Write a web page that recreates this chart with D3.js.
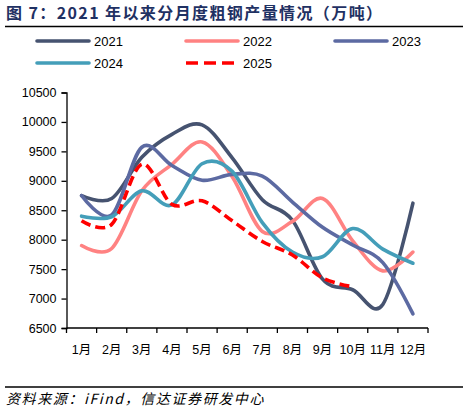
<!DOCTYPE html>
<html>
<head>
<meta charset="utf-8">
<script src="https://cdn.jsdelivr.net/npm/d3@7/dist/d3.min.js"></script>
<style>
  body { margin: 0; background: #fff; }
  svg { display: block; }
  text { font-family: "Liberation Sans", Arial, sans-serif; }
</style>
</head>
<body>
<svg id="chart" width="468" height="412"></svg>
<script>
// Data (万吨)
const months = ["1月","2月","3月","4月","5月","6月","7月","8月","9月","10月","11月","12月"]
const v2021 = [8750, 8700, 9400, 9790, 9950, 9390, 8680, 8330, 7330, 7150, 6900, 8620]
const v2022 = [7900, 7850, 8830, 9280, 9660, 9070, 8140, 8310, 8700, 7980, 7470, 7790]
const v2023 = [8750, 8420, 9570, 9260, 9010, 9110, 9080, 8640, 8210, 7910, 7610, 6740]
const v2024 = [8400, 8390, 8830, 8590, 9290, 9160, 8290, 7790, 7710, 8190, 7840, 7600]
const v2025 = [8320, 8260, 9280, 8600, 8660, 8320, 7970, 7740, 7350, 7200]
const yTicks = [6500, 7000, 7500, 8000, 8500, 9000, 9500, 10000, 10500]

const series = [
	{name: "2021", values: v2021, color: "#465370", dash: null},
	{name: "2022", values: v2022, color: "#FF8282", dash: null},
	{name: "2023", values: v2023, color: "#5C6AA2", dash: null},
	{name: "2024", values: v2024, color: "#449EB9", dash: null},
	{name: "2025", values: v2025, color: "#FF0000", dash: "10,5"}
]

const svg = d3.select("#chart")

// Title + rule
svg.append("text")
	.attr("x", 6).attr("y", 19)
	.style("font-family", "'Noto Sans CJK SC', sans-serif")
	.style("font-weight", "bold")
	.style("font-size", "16px")
	.style("letter-spacing", "1.4px")
	.style("fill", "#1F3163")
	.text("图 7：2021 年以来分月度粗钢产量情况（万吨）")
svg.append("line")
	.attr("x1", 5).attr("x2", 463).attr("y1", 26.5).attr("y2", 26.5)
	.style("stroke", "#000").style("stroke-width", 1.5)

// Scales
const x = d3.scaleBand().domain(months).range([66.5, 428])
const y = d3.scaleLinear().domain([6500, 10500]).range([328, 92.5])

// Axes
const yAxis = svg.append("g")
	.attr("transform", "translate(66.5,0)")
	.call(d3.axisLeft(y).tickValues(yTicks).tickSize(5).tickPadding(5).tickFormat(d3.format("d")))
const xAxis = svg.append("g")
	.attr("transform", "translate(0,328)")
	.call(d3.axisBottom(x).tickSize(0).tickPadding(17))

// ticks between categories on x axis
xAxis.selectAll(".sep")
	.data(d3.range(months.length + 1))
	.join("line")
	.attr("class", "sep")
	.attr("x1", i => x.range()[0] + i * x.step())
	.attr("x2", i => x.range()[0] + i * x.step())
	.attr("y1", 0).attr("y2", 5)
	.style("stroke", "#000").style("stroke-width", 1.3)

;[yAxis, xAxis].forEach(ax => {
	ax.select(".domain").style("stroke", "#000").style("stroke-width", 1.3)
	ax.selectAll(".tick line").style("stroke", "#000").style("stroke-width", 1.3)
	ax.selectAll(".tick text")
		.style("font-family", "'Liberation Sans', 'Noto Sans CJK SC', sans-serif")
		.style("font-size", "12.5px")
		.style("fill", "#000")
})
xAxis.select(".domain").attr("d", "M66.5,0H428")

// Lines (smoothed like the source chart)
const line = d3.line()
	.x((d, i) => x(months[i]) + x.bandwidth() / 2)
	.y(d => y(d))
	.curve(d3.curveCatmullRom.alpha(0))

svg.append("g").selectAll("path")
	.data(series)
	.join("path")
	.attr("d", d => line(d.values))
	.style("fill", "none")
	.style("stroke", d => d.color)
	.style("stroke-width", 3.6)
	.style("stroke-linecap", d => d.dash ? "butt" : "round")
	.style("stroke-linejoin", "round")
	.attr("stroke-dasharray", d => d.dash)

// Legend
const legendPos = [[37, 41], [186, 41], [335, 41], [37, 63], [186, 63]]
const legend = svg.append("g").selectAll("g")
	.data(series)
	.join("g")
	.attr("transform", (d, i) => "translate(" + legendPos[i][0] + "," + legendPos[i][1] + ")")
legend.append("line")
	.attr("x1", 0).attr("x2", 52)
	.style("stroke", d => d.color)
	.style("stroke-width", 3.6)
	.style("stroke-linecap", d => d.dash ? "butt" : "round")
	.attr("stroke-dasharray", d => d.dash ? "12,6" : null)
legend.append("text")
	.attr("x", 57).attr("y", 4.5)
	.style("font-size", "13px")
	.style("fill", "#000")
	.text(d => d.name)

// Source footer
svg.append("line")
	.attr("x1", 5).attr("x2", 463).attr("y1", 387).attr("y2", 387)
	.style("stroke", "#000").style("stroke-width", 1.5)
svg.append("text")
	.attr("x", 6).attr("y", 404)
	.style("font-family", "'Noto Sans CJK SC', sans-serif")
	.style("font-style", "italic")
	.style("font-size", "14px")
	.style("letter-spacing", "1.6px")
	.style("fill", "#000")
	.text("资料来源：iFind，信达证券研发中心")
</script>
</body>
</html>
